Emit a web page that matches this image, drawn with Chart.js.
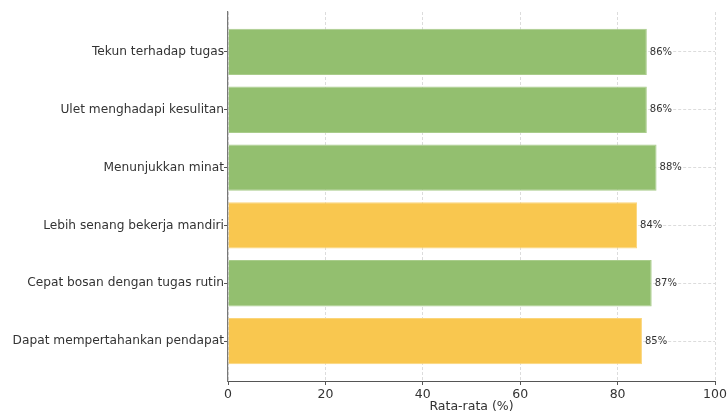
<!DOCTYPE html>
<html>
<head>
<meta charset="utf-8">
<script src="https://cdn.jsdelivr.net/npm/chart.js@4.4.0/dist/chart.umd.min.js"></script>
<style>
  html, body { margin: 0; padding: 0; background: #fff; }
  #wrap { width: 727px; height: 414px; }
</style>
</head>
<body>
<div id="wrap"><canvas id="myChart"></canvas></div>
<script>
const categories = [
  'Tekun terhadap tugas',
  'Ulet menghadapi kesulitan',
  'Menunjukkan minat',
  'Lebih senang bekerja mandiri',
  'Cepat bosan dengan tugas rutin',
  'Dapat mempertahankan pendapat'
];
const values = [86, 86, 88, 84, 87, 85];
const barColors = ['#93bf6f', '#93bf6f', '#93bf6f', '#f9c74f', '#93bf6f', '#f9c74f'];
const xTicks = [0, 20, 40, 60, 80, 100];

const font = "'DejaVu Sans', sans-serif";

// write "86%" just past the end of each bar
const valueLabels = {
  id: 'valueLabels',
  afterDatasetsDraw(chart) {
    const ctx = chart.ctx;
    const meta = chart.getDatasetMeta(0);
    ctx.save();
    ctx.font = '10px ' + font;
    ctx.fillStyle = '#333';
    ctx.textBaseline = 'middle';
    meta.data.forEach((bar, i) => {
      ctx.fillText(values[i] + '%', bar.x + 3, bar.y);
    });
    ctx.restore();
  }
};

var ctx = document.getElementById('myChart').getContext('2d');
var myChart = new Chart(ctx, {
  type: 'bar',
  data: {
    datasets: [{
      data: values.map((v, i) => ({ x: v, y: i })),
      backgroundColor: barColors,
      borderColor: barColors.map(c => c === '#f9c74f' ? '#fbd57a' : '#a9cc8b'),
      borderWidth: 1,
      barPercentage: 0.8,
      categoryPercentage: 1.0
    }]
  },
  options: {
    indexAxis: 'y',
    responsive: true,
    maintainAspectRatio: false,
    animation: false,
    layout: { padding: { top: 12, right: 12, left: 0, bottom: 0 } },
    plugins: { legend: { display: false }, tooltip: { enabled: false } },
    scales: {
      x: {
        type: 'linear',
        min: 0,
        max: 100,
        afterBuildTicks: axis => { axis.ticks = xTicks.map(v => ({ value: v })); },
        afterFit: axis => { axis.height = 33; axis.paddingRight = 12; axis.paddingLeft = 0; },
        grid: { color: '#dcdcdc', tickColor: '#555', tickLength: 4, tickBorderDash: [] },
        border: { display: true, color: '#555', width: 1, dash: [3, 2] },
        ticks: { color: '#333', font: { family: font, size: 12.5 }, padding: 2, maxRotation: 0 },
        title: { display: true, text: 'Rata-rata (%)', color: '#333', font: { family: font, size: 12.5 }, padding: { top: 1, bottom: 0 } }
      },
      y: {
        type: 'linear',
        reverse: true,
        offset: false,
        min: -0.69,
        max: 5.69,
        afterBuildTicks: axis => { axis.ticks = categories.map((c, i) => ({ value: i })); },
        afterFit: axis => { axis.width = 228; },
        grid: { offset: false, color: '#dcdcdc', tickColor: '#555', tickLength: 4, tickBorderDash: [] },
        border: { display: true, color: '#777', width: 1.2, dash: [3, 2] },
        ticks: {
          color: '#333',
          font: { family: font, size: 12.2 },
          padding: 0,
          callback: v => categories[v]
        }
      }
    }
  },
  plugins: [valueLabels]
});
</script>
</body>
</html>
